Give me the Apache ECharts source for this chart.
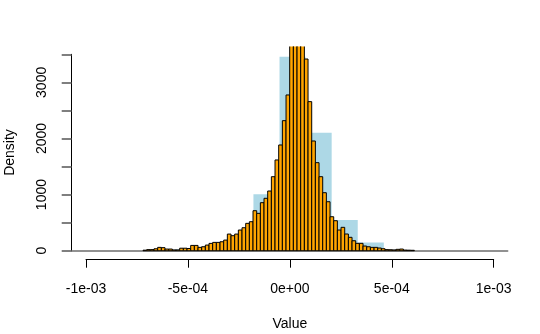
<!DOCTYPE html>
<html>
<head>
<meta charset="utf-8">
<script src="https://cdn.jsdelivr.net/npm/echarts@6/dist/echarts.min.js"></script>
<style>
  html, body { margin: 0; padding: 0; background: #fff; }
  #chart { width: 540px; height: 334px; }
</style>
</head>
<body>
<div id="chart"></div>
<script>
// Fine histogram (orange): bin start, bin width and density per bin
const fineStart = -7.2e-4;
const fineWidth = 1.8e-5;
const fineDensity = [
  10, 20, 20, 35, 60, 55, 30, 30, 15, 15,
  45, 45, 40, 95, 95, 60, 71, 101, 131, 149,
  149, 160, 190, 297, 268, 297, 369, 410, 488, 517,
  713, 666, 856, 934, 1064, 1319, 1617, 1884, 2317, 2775,
  3720, 3800, 3780, 3700, 3415, 2656, 1955, 1569, 1319, 1034,
  873, 606, 535, 369, 417, 298, 239, 178, 132, 132,
  84, 71, 60, 60, 48, 36, 20, 18, 15, 25,
  30, 12, 10, 8
];

// Coarse histogram (light blue)
const coarseStart = -5.62e-4;
const coarseWidth = 1.28e-4;
const coarseDensity = [20, 80, 250, 1005, 3455, 2103, 547, 149];

// Axis ticks and labels
const xTicks = [-1e-3, -5e-4, 0, 5e-4, 1e-3];
const xTickLabels = ['-1e-03', '-5e-04', '0e+00', '5e-04', '1e-03'];
const yLabelValues = [0, 1000, 2000, 3000];

// Plot region extents (data units)
const X_MIN = -1.07e-3, X_MAX = 1.07e-3;
const Y_MIN = -140, Y_MAX = 3640;

function toBins(start, width, values) {
  return values.map((v, i) => [start + i * width, start + (i + 1) * width, v]);
}

function barRenderer(fill, stroke, lineWidth) {
  return function (params, api) {
    const top = api.coord([api.value(0), api.value(2)]);
    const bottom = api.coord([api.value(1), 0]);
    return {
      type: 'rect',
      shape: { x: top[0], y: top[1], width: bottom[0] - top[0], height: bottom[1] - top[1] },
      style: { fill: fill, stroke: stroke, lineWidth: lineWidth }
    };
  };
}

const FONT = 'Liberation Sans, Arial, sans-serif';

const chart = echarts.init(document.getElementById('chart'), null, { renderer: 'canvas' });

chart.setOption({
  animation: false,
  backgroundColor: '#ffffff',
  grid: [
    // plotting region
    { left: 71.7, width: 436, top: 46.4, bottom: 75.4, outerBoundsMode: 'none', containLabel: false },
    // y axis drawn from 0 to 3500
    { left: 71.7, width: 436, top: 54.3, bottom: 83.3, outerBoundsMode: 'none', containLabel: false },
    // x axis drawn from -1e-3 to 1e-3 below the plotting region
    { left: 86, right: 46.3, bottom: 74.3, height: 20, outerBoundsMode: 'none', containLabel: false }
  ],
  xAxis: [
    {
      gridIndex: 0, type: 'value', min: X_MIN, max: X_MAX,
      axisLine: { show: true, onZero: true, lineStyle: { color: '#6e6e6e', width: 1.5 } },
      axisTick: { show: false }, axisLabel: { show: false }, splitLine: { show: false }
    },
    {
      gridIndex: 1, type: 'value', min: X_MIN, max: X_MAX, show: false,
      axisLine: { onZero: false }
    },
    {
      gridIndex: 2, type: 'value', position: 'bottom',
      min: xTicks[0], max: xTicks[xTicks.length - 1], interval: 5e-4,
      axisLine: { show: true, onZero: false, lineStyle: { color: '#000', width: 1 } },
      axisTick: { show: true, length: 8, lineStyle: { color: '#000', width: 1 } },
      axisLabel: {
        show: true, margin: 22, fontFamily: FONT, fontSize: 14, color: '#000',
        formatter: function (v) {
          const i = xTicks.findIndex(t => Math.abs(t - v) < 1e-9);
          return i >= 0 ? xTickLabels[i] : '';
        }
      },
      splitLine: { show: false },
      name: 'Value', nameLocation: 'middle', nameGap: 57.5,
      nameTextStyle: { fontFamily: FONT, fontSize: 14, color: '#000' }
    }
  ],
  yAxis: [
    {
      gridIndex: 0, type: 'value', min: Y_MIN, max: Y_MAX, show: false,
      axisLine: { onZero: false }
    },
    {
      gridIndex: 1, type: 'value', position: 'left', min: 0, max: 3500, interval: 500,
      axisLine: { show: true, onZero: false, lineStyle: { color: '#000', width: 1 } },
      axisTick: { show: true, length: 10, lineStyle: { color: '#555', width: 1.5 } },
      axisLabel: {
        show: true, rotate: 90, margin: 23, fontFamily: FONT, fontSize: 14, color: '#000',
        formatter: function (v) { return yLabelValues.indexOf(v) >= 0 ? String(v) : ''; }
      },
      splitLine: { show: false },
      name: 'Density', nameLocation: 'middle', nameGap: 55, nameRotate: 90,
      nameTextStyle: { fontFamily: FONT, fontSize: 14, color: '#000' }
    },
    {
      gridIndex: 2, type: 'value', show: false,
      axisLine: { onZero: false }
    }
  ],
  series: [
    {
      name: 'coarse', type: 'custom', xAxisIndex: 0, yAxisIndex: 0, clip: true,
      renderItem: barRenderer('#ADD8E6', null, 0),
      encode: { x: [0, 1], y: 2 },
      data: toBins(coarseStart, coarseWidth, coarseDensity),
      silent: true
    },
    {
      name: 'fine', type: 'custom', xAxisIndex: 0, yAxisIndex: 0, clip: true,
      renderItem: barRenderer('#FFA500', '#000000', 1),
      encode: { x: [0, 1], y: 2 },
      data: toBins(fineStart, fineWidth, fineDensity),
      silent: true
    }
  ]
});
</script>
</body>
</html>
